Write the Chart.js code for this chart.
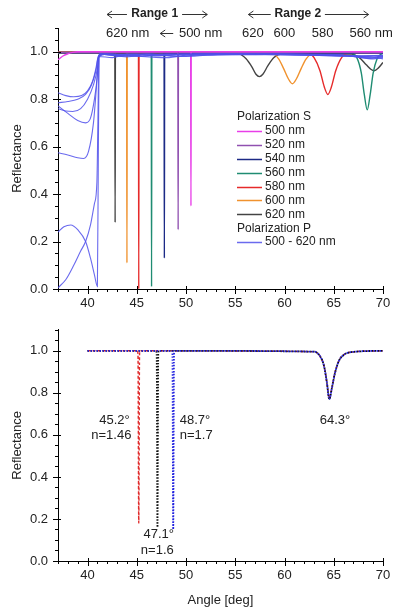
<!DOCTYPE html>
<html>
<head>
<meta charset="utf-8">
<script src="https://cdn.jsdelivr.net/npm/chart.js@4.4.1/dist/chart.umd.min.js"></script>
<style>
  html, body { margin: 0; padding: 0; background: #fff; }
  #wrap { position: relative; width: 400px; height: 614px; }
  .box { position: absolute; left: 0; width: 400px; }
  #topBox { top: 0; height: 312px; }
  #botBox { top: 312px; height: 302px; }
</style>
</head>
<body>
<div id="wrap">
  <div class="box" id="topBox"><canvas id="topChart" width="400" height="312"></canvas></div>
  <div class="box" id="botBox"><canvas id="botChart" width="400" height="302"></canvas></div>
</div>
<script>
// ticks
const xTicks = [40, 45, 50, 55, 60, 65, 70];
const yTicks = [0, 0.2, 0.4, 0.6, 0.8, 1.0];

// Polarization S, [angle, reflectance]
const sLabels = ['500 nm', '520 nm', '540 nm', '560 nm', '580 nm', '600 nm', '620 nm'];
const s500 = [[37, 0.966], [37.5, 0.982], [38, 0.991], [38.5, 0.997], [39, 1.0], [50.47, 1.0], [50.5, 0.35], [50.53, 1.0], [70, 1.0]];
const s520 = [[37, 0.997], [49.17, 0.997], [49.2, 0.25], [49.23, 0.997], [70, 0.997]];
const s540 = [[37, 0.996], [47.77, 0.996], [47.8, 0.13], [47.83, 0.996], [70, 0.994]];
const s560 = [[37, 0.997], [46.47, 0.997], [46.5, 0.01], [46.53, 0.997], [66.8, 0.993], [67.4, 0.97], [67.8, 0.91], [68.1, 0.82], [68.4, 0.755], [68.7, 0.82], [69.0, 0.91], [69.4, 0.97], [69.8, 0.99], [70, 0.993]];
const s580 = [[37, 0.999], [45.17, 0.999], [45.2, 0.0], [45.23, 0.999], [62.4, 0.996], [63.0, 0.975], [63.6, 0.92], [64.05, 0.85], [64.4, 0.82], [64.75, 0.85], [65.2, 0.92], [65.8, 0.975], [66.5, 0.995], [70, 0.999]];
const s600 = [[37, 0.997], [43.97, 0.997], [44.0, 0.11], [44.03, 0.997], [58.7, 0.994], [59.4, 0.97], [59.9, 0.93], [60.4, 0.885], [60.8, 0.865], [61.2, 0.885], [61.7, 0.93], [62.2, 0.97], [62.9, 0.992], [70, 0.996]];
const s620 = [[37, 0.994], [42.77, 0.994], [42.8, 0.28], [42.83, 0.994], [55.4, 0.99], [56.1, 0.97], [56.7, 0.935], [57.1, 0.905], [57.45, 0.895], [57.8, 0.905], [58.3, 0.94], [58.9, 0.975], [59.7, 0.99], [66.8, 0.99], [67.6, 0.975], [68.3, 0.945], [68.8, 0.925], [69.1, 0.92], [69.5, 0.93], [70, 0.955]];
const sSeries = [s500, s520, s540, s560, s580, s600, s620];

// Polarization P, one curve per wavelength
const pLabel = '500 - 620 nm';
const p1 = [[37, 0.827], [37.8, 0.815], [38.6, 0.81], [39.4, 0.815], [40, 0.835], [40.5, 0.875], [40.85, 0.93], [41.05, 0.975], [41.3, 0.99], [43, 0.984], [45, 0.99], [47, 0.982], [50, 0.99], [56, 0.99], [63, 0.988], [67, 0.982], [68.7, 0.972], [70, 0.978]];
const p2 = [[37, 0.785], [38, 0.79], [39, 0.8], [39.8, 0.82], [40.4, 0.86], [40.85, 0.92], [41.1, 0.98], [41.4, 0.99], [44, 0.978], [46, 0.99], [49, 0.98], [53, 0.99], [60, 0.988], [66, 0.985], [68, 0.975], [70, 0.98]];
const p3 = [[37, 0.76], [37.8, 0.75], [38.5, 0.748], [39.3, 0.76], [40, 0.8], [40.6, 0.86], [41.0, 0.93], [41.15, 0.98], [42, 0.99], [45, 0.98], [48, 0.99], [51, 0.985], [60, 0.99], [67, 0.98], [69, 0.97], [70, 0.975]];
const p4 = [[37, 0.772], [38, 0.74], [39, 0.71], [39.8, 0.7], [40.3, 0.72], [40.7, 0.8], [41.0, 0.9], [41.15, 0.98], [42.5, 0.975], [44, 0.99], [47, 0.985], [52, 0.99], [62, 0.985], [68.5, 0.98], [70, 0.97]];
const p5 = [[37, 0.574], [38, 0.565], [39, 0.553], [39.6, 0.55], [40.1, 0.58], [40.6, 0.7], [40.9, 0.85], [41.1, 0.97], [41.25, 0.99], [43.5, 0.98], [46, 0.99], [50, 0.98], [54, 0.99], [65, 0.988], [69, 0.978], [70, 0.982]];
const p6 = [[37, 0.24], [37.6, 0.262], [38.3, 0.27], [39, 0.25], [39.8, 0.2], [40.3, 0.13], [40.7, 0.06], [41.0, 0.01], [41.1, 0.6], [41.2, 0.99], [44, 0.985], [48, 0.975], [51, 0.99], [60, 0.99], [66, 0.983], [70, 0.985]];
const p7 = [[37, 0.005], [37.8, 0.04], [38.6, 0.1], [39.3, 0.16], [39.8, 0.2], [40.3, 0.27], [40.7, 0.36], [40.95, 0.45], [41.05, 0.7], [41.15, 0.98], [42, 0.99], [45.5, 0.985], [49, 0.99], [58, 0.99], [67.5, 0.98], [70, 0.985]];
const pSeries = [p1, p2, p3, p4, p5, p6, p7];

// bottom chart, one curve per refractive index
const nLabels = ['n=1.46', 'n=1.6', 'n=1.7'];
const n146 = [[40, 1.0], [45.05, 1.0], [45.12, 0.985], [45.2, 0.18], [45.28, 0.985], [45.35, 1.0], [63.0, 0.996], [63.6, 0.975], [64.0, 0.93], [64.3, 0.85], [64.55, 0.775], [64.8, 0.82], [65.1, 0.89], [65.5, 0.95], [66.0, 0.98], [67.0, 0.995], [70, 1.0]];
const n160 = [[40, 1.0], [46.95, 1.0], [47.02, 0.985], [47.1, 0.16], [47.18, 0.985], [47.25, 1.0], [63.0, 0.996], [63.6, 0.975], [64.0, 0.93], [64.3, 0.85], [64.55, 0.77], [64.8, 0.82], [65.1, 0.89], [65.5, 0.95], [66.0, 0.98], [67.0, 0.995], [70, 1.0]];
const n170 = [[40, 1.0], [48.55, 1.0], [48.62, 0.985], [48.7, 0.15], [48.78, 0.985], [48.85, 1.0], [63.0, 0.996], [63.6, 0.975], [64.0, 0.93], [64.3, 0.85], [64.55, 0.77], [64.8, 0.82], [65.1, 0.89], [65.5, 0.95], [66.0, 0.98], [67.0, 0.995], [70, 1.0]];

const sColors = ['#e83ee8', '#9050b0', '#1c2a86', '#1f8c72', '#e62a2a', '#f0922e', '#444444'];
const pColor = 'rgba(80, 80, 235, 0.85)';
const FONT = 'Arial, "Liberation Sans", sans-serif';

Chart.defaults.font.family = FONT;
Chart.defaults.font.size = 13;
Chart.defaults.color = '#222';

const toXY = arr => arr.map(p => ({ x: p[0], y: p[1] }));

// ticks drawn by hand: major + minor, crossing the axes
const axisTicks = {
    id: 'axisTicks',
    afterDraw(chart) {
        const { ctx, chartArea: a, scales: { x, y } } = chart;
        ctx.save();
        ctx.strokeStyle = '#000';
        ctx.lineWidth = 1;
        ctx.beginPath();
        for (let v = 37; v <= 70; v++) {
            const px = Math.round(x.getPixelForValue(v)) + 0.5;
            const major = v % 5 === 0;
            ctx.moveTo(px, a.bottom - (major ? 3 : 0));
            ctx.lineTo(px, a.bottom + (major ? 5 : 3));
        }
        for (let i = 0; i <= 22; i++) {
            const py = Math.round(y.getPixelForValue(i * 0.05)) + 0.5;
            const major = i % 4 === 0;
            ctx.moveTo(a.left + (major ? 3 : 0), py);
            ctx.lineTo(a.left - (major ? 5 : 3), py);
        }
        ctx.stroke();
        ctx.restore();
    }
};

// text notes and arrows, placed in data units
const notes = {
    id: 'notes',
    afterDatasetsDraw(chart, args, opts) {
        const { ctx, scales: { x, y } } = chart;
        ctx.save();
        ctx.fillStyle = '#222';
        ctx.textBaseline = 'middle';
        (opts.texts || []).forEach(t => {
            ctx.font = (t.bold ? 'bold 12px ' : '13px ') + FONT;
            ctx.textAlign = t.align || 'center';
            ctx.fillText(t.text, x.getPixelForValue(t.x), y.getPixelForValue(t.y));
        });
        ctx.strokeStyle = '#333';
        ctx.lineWidth = 1;
        (opts.arrows || []).forEach(r => {
            const x1 = x.getPixelForValue(r.from), x2 = x.getPixelForValue(r.to);
            const py = Math.round(y.getPixelForValue(r.y)) + 0.5;
            const dir = x2 > x1 ? 1 : -1;
            ctx.beginPath();
            ctx.moveTo(x1, py);
            ctx.lineTo(x2, py);
            ctx.moveTo(x2 - dir * 5, py - 3.5);
            ctx.lineTo(x2, py);
            ctx.lineTo(x2 - dir * 5, py + 3.5);
            ctx.stroke();
        });
        ctx.restore();
    }
};

// legend inside the top plot
const groupLegend = {
    id: 'groupLegend',
    afterDraw(chart, args, opts) {
        if (!opts.rows) return;
        const { ctx } = chart;
        ctx.save();
        ctx.font = '12px ' + FONT;
        ctx.textBaseline = 'middle';
        ctx.textAlign = 'left';
        opts.rows.forEach((r, i) => {
            const y = opts.y + i * opts.rowH;
            if (r.color) {
                ctx.strokeStyle = r.color;
                ctx.lineWidth = 1.5;
                ctx.beginPath();
                ctx.moveTo(opts.x, Math.round(y) + 0.5);
                ctx.lineTo(opts.x + 25, Math.round(y) + 0.5);
                ctx.stroke();
                ctx.fillStyle = '#222';
                ctx.fillText(r.text, opts.x + 28, y);
            } else {
                ctx.fillStyle = '#222';
                ctx.fillText(r.text, opts.x, y);
            }
        });
        ctx.restore();
    }
};

function baseScales(showXTitle) {
    return {
        x: {
            type: 'linear',
            min: 37,
            max: 70,
            grid: { display: false, drawTicks: false },
            border: { display: true, color: '#000', width: 1 },
            afterBuildTicks: s => { s.ticks = xTicks.map(v => ({ value: v })); },
            afterFit: s => { s.height = showXTitle ? 53 : 23; },
            ticks: { padding: 7, maxRotation: 0, color: '#222' },
            title: { display: showXTitle, text: 'Angle [deg]', color: '#222', font: { size: 13 }, padding: { top: 0, bottom: 6 } }
        },
        y: {
            min: 0,
            max: 1.1,
            grid: { display: false, drawTicks: false },
            border: { display: true, color: '#000', width: 1 },
            afterBuildTicks: s => { s.ticks = yTicks.map(v => ({ value: v })); },
            afterFit: s => { s.width = 58; },
            ticks: { padding: 10, color: '#222', callback: v => v.toFixed(1) },
            title: { display: true, text: 'Reflectance', color: '#222', font: { size: 13 }, padding: { top: 10, bottom: 0 } }
        }
    };
}

const sDatasets = sSeries.map((d, i) => ({
    label: sLabels[i],
    data: toXY(d),
    borderColor: sColors[i],
    borderWidth: 1.4,
    order: 2
}));
const pDatasets = pSeries.map(d => ({
    label: pLabel,
    data: toXY(d),
    borderColor: pColor,
    borderWidth: 1.1,
    order: 1
}));

new Chart(document.getElementById('topChart'), {
    type: 'scatter',
    data: { datasets: sDatasets.concat(pDatasets) },
    options: {
        responsive: false,
        animation: false,
        showLine: true,
        elements: { point: { radius: 0 }, line: { tension: 0, cubicInterpolationMode: 'monotone' } },
        layout: { padding: { top: 28, right: 17, left: 0, bottom: 0 } },
        scales: baseScales(false),
        plugins: {
            legend: { display: false },
            tooltip: { enabled: false },
            notes: {
                texts: [
                    { text: 'Range 1', x: 46.82, y: 1.16, bold: true },
                    { text: 'Range 2', x: 61.36, y: 1.16, bold: true },
                    { text: '620 nm', x: 41.88, y: 1.078, align: 'left' },
                    { text: '500 nm', x: 53.68, y: 1.078, align: 'right' },
                    { text: '620', x: 56.79, y: 1.078 },
                    { text: '600', x: 59.99, y: 1.078 },
                    { text: '580', x: 63.86, y: 1.078 },
                    { text: '560 nm', x: 68.79, y: 1.078 }
                ],
                arrows: [
                    { from: 44.0, to: 41.98, y: 1.16 },
                    { from: 49.6, to: 52.16, y: 1.16 },
                    { from: 58.6, to: 56.33, y: 1.16 },
                    { from: 64.1, to: 68.54, y: 1.16 },
                    { from: 48.7, to: 47.38, y: 1.078 }
                ]
            },
            groupLegend: {
                x: 237,
                y: 117,
                rowH: 13.9,
                rows: [{ text: 'Polarization S' }]
                    .concat(sLabels.map((l, i) => ({ text: l, color: sColors[i] })))
                    .concat([{ text: 'Polarization P' }, { text: pLabel, color: pColor }])
            }
        }
    },
    plugins: [axisTicks, notes, groupLegend]
});

new Chart(document.getElementById('botChart'), {
    type: 'scatter',
    data: {
        datasets: [
            { label: nLabels[2], data: toXY(n170), borderColor: '#2424e0', borderWidth: 1.8, borderDash: [1.5, 1.5] },
            { label: nLabels[1], data: toXY(n160), borderColor: '#111111', borderWidth: 1.8, borderDash: [1.5, 1.5] },
            { label: nLabels[0], data: toXY(n146), borderColor: '#e02a2a', borderWidth: 1.4, borderDash: [3, 2] }
        ]
    },
    options: {
        responsive: false,
        animation: false,
        showLine: true,
        elements: { point: { radius: 0 }, line: { tension: 0, cubicInterpolationMode: 'monotone' } },
        layout: { padding: { top: 15, right: 17, left: 0, bottom: 0 } },
        scales: baseScales(true),
        plugins: {
            legend: { display: false },
            tooltip: { enabled: false },
            notes: {
                texts: [
                    { text: '45.2°', x: 44.29, y: 0.671, align: 'right' },
                    { text: 'n=1.46', x: 44.45, y: 0.599, align: 'right' },
                    { text: '48.7°', x: 49.36, y: 0.671, align: 'left' },
                    { text: 'n=1.7', x: 49.36, y: 0.599, align: 'left' },
                    { text: '47.1°', x: 47.23, y: 0.127 },
                    { text: 'n=1.6', x: 47.08, y: 0.052 },
                    { text: '64.3°', x: 65.12, y: 0.671 }
                ]
            }
        }
    },
    plugins: [axisTicks, notes]
});
</script>
</body>
</html>
